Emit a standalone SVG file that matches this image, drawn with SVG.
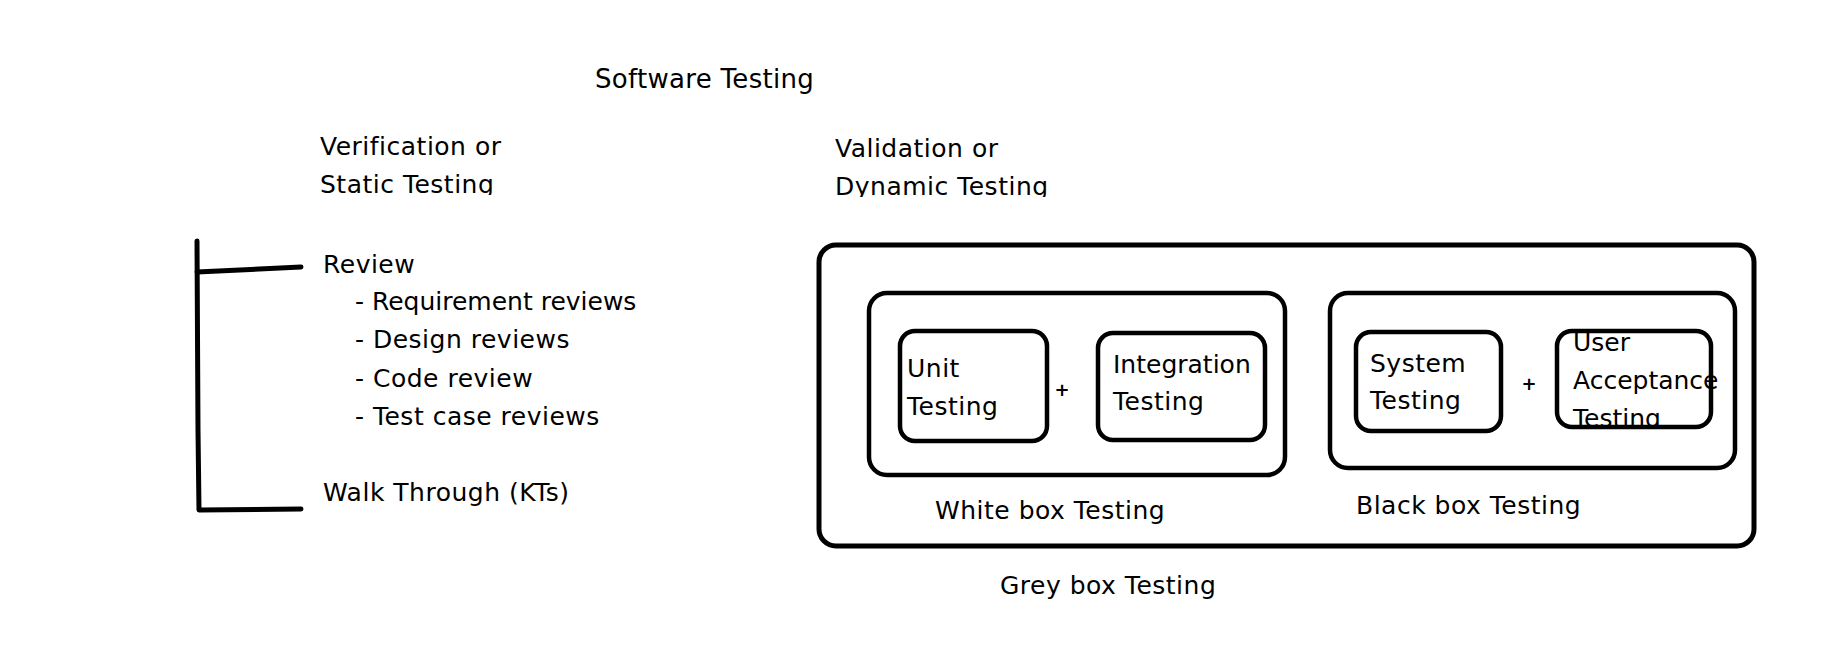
<svg xmlns="http://www.w3.org/2000/svg" width="1828" height="648" viewBox="0 0 1828 648">
<style>
  text { font-family: "DejaVu Sans", "Liberation Sans", sans-serif; font-size: 25px; letter-spacing: 0.5px; fill: #000; }
  .title { font-size: 26px; letter-spacing: 0.3px; }
  .tight { letter-spacing: 0; }
  .plus { font-size: 18px; font-weight: bold; text-anchor: middle; letter-spacing: 0; }
  .box { fill: none; stroke: #000; stroke-width: 4.5; }
  .outer { fill: none; stroke: #000; stroke-width: 5; }
  .line { fill: none; stroke: #000; stroke-width: 5; stroke-linecap: round; stroke-linejoin: round; }
</style>
<defs>
  <clipPath id="clipStatic"><rect x="300" y="120" width="300" height="75"/></clipPath>
  <clipPath id="clipDynamic"><rect x="820" y="120" width="300" height="77"/></clipPath>
  <clipPath id="clipUAT"><rect x="1555" y="331" width="166" height="97"/></clipPath>
</defs>
<rect x="0" y="0" width="1828" height="648" fill="#fff"/>

<g id="software-testing">
  <text class="title" x="595" y="88">Software Testing</text>
</g>

<g id="verification">
  <text x="320" y="155">Verification or</text>
  <g clip-path="url(#clipStatic)"><text x="320" y="193">Static Testing</text></g>
</g>

<g id="validation">
  <text x="835" y="157">Validation or</text>
  <g clip-path="url(#clipDynamic)"><text x="835" y="195">Dynamic Testing</text></g>
</g>

<g id="review">
  <text x="323" y="273">Review</text>
  <text class="tight" x="355" y="310">- Requirement reviews</text>
  <text x="355" y="348">- Design reviews</text>
  <text x="355" y="387">- Code review</text>
  <text x="355" y="425">- Test case reviews</text>
</g>

<g id="walk-through">
  <text x="323" y="501">Walk Through (KTs)</text>
</g>

<g id="connectors">
  <path class="line" d="M197,241 L198,430 L199,510 L301,509"/>
  <path class="line" d="M197,272 L301,267"/>
</g>

<g id="grey-box">
  <rect class="outer" x="819" y="245" width="935" height="301" rx="17" ry="17"/>
  <text x="1000" y="594">Grey box Testing</text>
</g>

<g id="white-box">
  <rect class="box" x="869" y="293" width="416" height="182" rx="18" ry="18"/>
  <text x="935" y="519">White box Testing</text>
</g>

<g id="unit-testing">
  <rect class="box" x="900" y="331" width="147" height="110" rx="15" ry="15"/>
  <text x="907" y="377">Unit</text>
  <text x="907" y="415">Testing</text>
</g>

<g id="plus-white">
  <text class="plus" x="1062" y="396">+</text>
</g>

<g id="integration-testing">
  <rect class="box" x="1098" y="333" width="167" height="107" rx="15" ry="15"/>
  <text class="tight" x="1113" y="373">Integration</text>
  <text x="1113" y="410">Testing</text>
</g>

<g id="black-box">
  <rect class="box" x="1330" y="293" width="405" height="175" rx="18" ry="18"/>
  <text x="1356" y="514">Black box Testing</text>
</g>

<g id="system-testing">
  <rect class="box" x="1356" y="332" width="145" height="99" rx="15" ry="15"/>
  <text x="1370" y="372">System</text>
  <text x="1370" y="409">Testing</text>
</g>

<g id="plus-black">
  <text class="plus" x="1529" y="390">+</text>
</g>

<g id="uat">
  <rect class="box" x="1557" y="331" width="154" height="96" rx="15" ry="15"/>
  <g clip-path="url(#clipUAT)">
    <text class="tight" x="1573" y="351">User</text>
    <text class="tight" x="1573" y="389">Acceptance</text>
    <text class="tight" x="1573" y="427">Testing</text>
  </g>
</g>
</svg>
